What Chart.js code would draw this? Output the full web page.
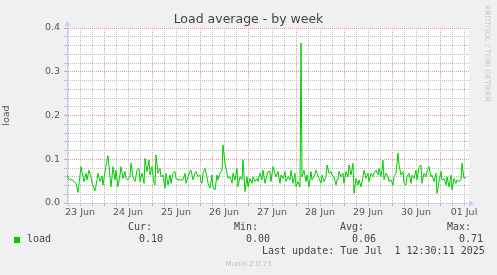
<!DOCTYPE html>
<html><head><meta charset="utf-8">
<script src="https://cdn.jsdelivr.net/npm/chart.js@4"></script>
<style>
html,body{margin:0;padding:0;background:#f0f0f0;}
#wrap{position:relative;width:497px;height:275px;overflow:hidden;background:#f0f0f0;}
canvas{position:absolute;left:0;top:0;}
.t{position:absolute;white-space:pre;line-height:1;}
.sans{font-family:"DejaVu Sans",sans-serif;}
.mono{font-family:"DejaVu Sans Mono",monospace;font-size:10px;color:#444;}
</style></head><body>
<div id="wrap">
<canvas id="c" width="497" height="275"></canvas>
<div class="t sans" style="left:0;width:497px;text-align:center;top:13.4px;font-size:12.5px;color:#444;">Load average - by week</div>
<div class="t sans" style="left:490.75px;top:5px;font-size:7.5px;color:#c8c8c8;transform:rotate(90deg);transform-origin:0 0;">RRDTOOL / TOBI OETIKER</div>
<div style="position:absolute;left:14px;top:237px;width:6px;height:6px;background:#00cc00;"></div>
<div class="t mono" style="left:27px;top:234.2px;">load</div>
<div class="t mono" style="left:128px;top:222.2px;">Cur:</div>
<div class="t mono" style="left:139px;top:234.2px;">0.10</div>
<div class="t mono" style="left:234px;top:222.2px;">Min:</div>
<div class="t mono" style="left:246px;top:234.2px;">0.00</div>
<div class="t mono" style="left:340px;top:222.2px;">Avg:</div>
<div class="t mono" style="left:352px;top:234.2px;">0.06</div>
<div class="t mono" style="left:447px;top:222.2px;">Max:</div>
<div class="t mono" style="left:459px;top:234.2px;">0.71</div>
<div class="t mono" style="left:262px;top:246.2px;">Last update: Tue Jul  1 12:30:11 2025</div>
<div class="t sans" style="left:0;width:497px;text-align:center;top:261.1px;font-size:7px;color:#bdbdbd;">Munin 2.0.73</div>
</div>
<script>
// x positions: half-hour slots since 23 Jun 05:30
const halfHours = [
0,2,4,5,7,9,11,14,15,17,19,20,22,24,25,28,30,31,33,35,36,38,40,41,43,44,46,48,49,51,53,54,56,58,59,61,63,64,66,
67,68,70,72,73,75,77,78,80,82,83,85,87,88,89,91,93,94,96,98,99,101,103,104,106,108,109,111,113,114,116,118,119,121,123,124,126,128,129,131,133,134,
135,136,138,140,141,143,145,146,148,150,151,153,155,156,158,160,161,163,165,166,168,170,171,173,175,176,178,180,181,183,185,186,188,190,191,193,195,196,198,200,201,
203,204,206,208,209,211,213,214,216,218,219,221,223,224,226,228,229,231,233,234,235,237,239,240,242,244,245,247,249,250,252,254,255,257,259,260,262,264,265,267,269,270,
271,272,274,276,277,279,281,282,284,286,287,289,291,292,294,296,297,299,301,302,304,306,307,309,311,312,314,316,317,319,321,322,324,326,327,329,331,332,334,336,337,
339,340,342,344,345,347,349,350,352,354,355,357,359,360,362,364,365,367,369,370,372,374,375,377,379,380,382,384,385,387,389,390,392,394,395,397,399
];
const loadValues = [
0.064,0.054,0.053,0.053,0.049,0.045,0.024,0.083,0.072,0.049,0.068,0.053,0.075,0.060,0.046,0.028,0.053,0.068,0.049,0.062,0.041,0.072,0.098,0.108,0.060,0.037,0.083,0.053,0.075,0.037,0.064,0.083,0.056,0.072,0.056,0.053,0.062,0.091,0.060,
0.053,0.049,0.075,0.079,0.049,0.068,0.045,0.102,0.072,0.098,0.064,0.083,0.045,0.041,0.110,0.068,0.079,0.060,0.064,0.034,0.068,0.041,0.064,0.045,0.068,0.072,0.056,0.053,0.053,0.053,0.053,0.068,0.045,0.060,0.072,0.075,0.053,0.068,0.072,0.060,0.064,0.049,
0.045,0.068,0.079,0.060,0.045,0.034,0.064,0.037,0.030,0.064,0.053,0.068,0.075,0.133,0.091,0.068,0.056,0.060,0.045,0.068,0.053,0.079,0.037,0.060,0.053,0.098,0.026,0.060,0.037,0.056,0.045,0.060,0.049,0.056,0.049,0.068,0.053,0.075,0.045,0.064,0.072,
0.072,0.049,0.083,0.068,0.060,0.072,0.045,0.064,0.056,0.072,0.049,0.060,0.053,0.075,0.045,0.068,0.037,0.049,0.037,0.366,0.060,0.075,0.049,0.064,0.037,0.072,0.053,0.060,0.075,0.068,0.056,0.045,0.064,0.049,0.060,0.087,0.068,0.072,0.064,0.060,0.041,0.053,
0.053,0.072,0.060,0.068,0.045,0.072,0.060,0.087,0.064,0.091,0.022,0.056,0.041,0.053,0.037,0.060,0.075,0.056,0.068,0.049,0.068,0.060,0.068,0.075,0.064,0.079,0.060,0.098,0.053,0.068,0.060,0.049,0.053,0.041,0.060,0.068,0.114,0.087,0.064,0.072,0.045,
0.041,0.060,0.068,0.045,0.064,0.056,0.075,0.053,0.083,0.087,0.045,0.068,0.060,0.072,0.083,0.060,0.064,0.049,0.068,0.022,0.049,0.072,0.053,0.056,0.041,0.060,0.037,0.064,0.030,0.056,0.045,0.053,0.049,0.053,0.091,0.056,0.059
];
const dayLabels = ['23 Jun','24 Jun','25 Jun','26 Jun','27 Jun','28 Jun','29 Jun','30 Jun','01 Jul'];
const yTickLabels = ['0.0','0.1','0.2','0.3','0.4'];
const firstNoonSlot = 13, firstMidnightSlot = 37, slotsPerDay = 48, slotsPer6h = 12, maxSlot = 402;

const tickSlots = [];
for (let s = 1; s <= 398; s += slotsPer6h) tickSlots.push(s);

const RED = '#e49a9a', GRAY = '#bfbfbf', AXIS = '#c6cdf2';

const decor = {
  id: 'decor',
  beforeDraw(chart) {
    const {ctx, chartArea: a} = chart;
    ctx.save(); ctx.fillStyle = '#ffffff';
    ctx.fillRect(a.left, a.top, a.right - a.left, a.bottom - a.top);
    ctx.restore();
  },
  afterDraw(chart) {
    const {ctx, chartArea: a} = chart;
    const L = Math.round(a.left) + 0.5, B = Math.round(a.bottom) + 0.5;
    ctx.save();
    ctx.strokeStyle = AXIS; ctx.fillStyle = AXIS; ctx.lineWidth = 1;
    ctx.beginPath(); ctx.moveTo(L, a.top); ctx.lineTo(L, a.top - 3); ctx.stroke();
    ctx.beginPath(); ctx.moveTo(L, a.top - 7); ctx.lineTo(L - 3, a.top - 2); ctx.lineTo(L + 3, a.top - 2); ctx.closePath(); ctx.fill();
    ctx.beginPath(); ctx.moveTo(a.right, B); ctx.lineTo(a.right + 1, B); ctx.stroke();
    ctx.beginPath(); ctx.moveTo(a.right + 5, B); ctx.lineTo(a.right, B - 3); ctx.lineTo(a.right, B + 3); ctx.closePath(); ctx.fill();
    ctx.restore();
  }
};

new Chart(document.getElementById('c'), {
  type: 'line',
  data: { datasets: [{
    data: halfHours.map((t, i) => ({x: t, y: loadValues[i]})),
    borderColor: '#00cc00', borderWidth: 1, pointRadius: 0, tension: 0, fill: false
  }]},
  options: {
    responsive: false, animation: false, devicePixelRatio: 1,
    layout: { padding: { left: 0, right: 28, top: 28, bottom: 52 } },
    plugins: { legend: {display: false}, tooltip: {enabled: false}, title: {display: false} },
    scales: {
      x: {
        type: 'linear', min: 0, max: maxSlot,
        afterBuildTicks(axis) { axis.ticks = tickSlots.map(v => ({value: v})); },
        afterFit(axis) { axis.height = 20; },
        ticks: {
          autoSkip: false, maxRotation: 0, minRotation: 0, padding: 1, color: '#555',
          font: { family: 'DejaVu Sans', size: 9.5 },
          callback: (v) => { const k = (v - firstNoonSlot) / slotsPerDay; return Number.isInteger(k) ? dayLabels[k] : ''; }
        },
        grid: {
          color: (c) => (c.tick && (c.tick.value - firstMidnightSlot) % slotsPerDay === 0) ? RED : GRAY,
          lineWidth: 1, tickLength: 3, drawTicks: true
        },
        border: { display: true, color: AXIS, dash: [1, 1] }
      },
      y: {
        min: 0, max: 0.4,
        afterFit(axis) { axis.width = 67; },
        ticks: {
          stepSize: 0.02, autoSkip: false, padding: 4, color: '#555',
          font: { family: 'DejaVu Sans', size: 9.5 },
          callback: (v) => { const n = Math.round(v * 100); return n % 10 === 0 ? yTickLabels[n / 10] : ''; }
        },
        grid: {
          color: (c) => (c.tick && Math.round(c.tick.value * 100) % 10 === 0) ? RED : GRAY,
          lineWidth: 1, tickLength: 3, drawTicks: true
        },
        border: { display: true, color: AXIS, dash: [1, 1] },
        title: { display: true, text: 'load', color: '#555', font: { family: 'DejaVu Sans', size: 9.5 }, padding: { top: 1, bottom: 0 } }
      }
    }
  },
  plugins: [decor]
});
</script>
</body></html>
